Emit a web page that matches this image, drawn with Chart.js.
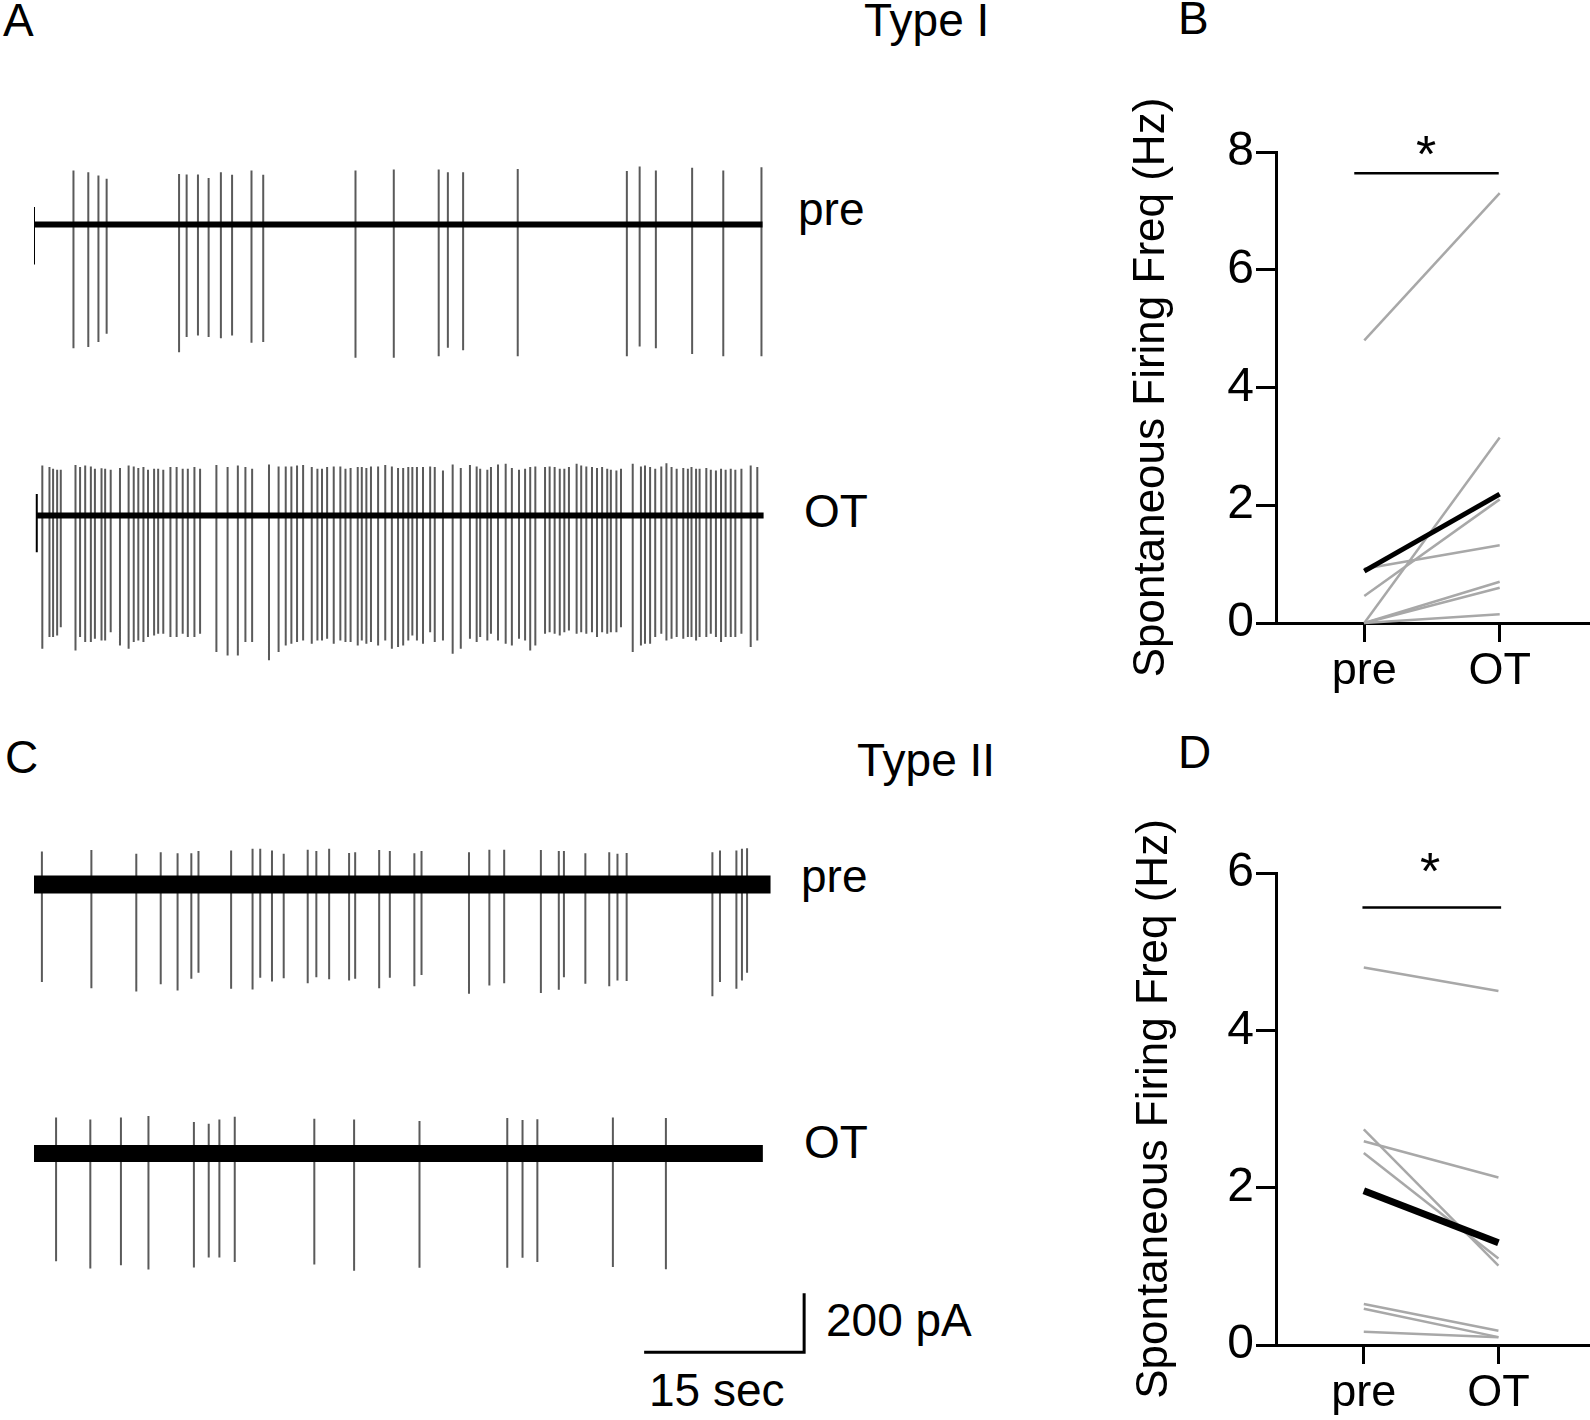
<!DOCTYPE html>
<html>
<head>
<meta charset="utf-8">
<script src="https://cdn.jsdelivr.net/npm/chart.js@4.4.1/dist/chart.umd.min.js"></script>
<style>
  body { margin: 0; background: #fff; width: 1590px; height: 1420px; position: relative; overflow: hidden;
         font-family: "Liberation Sans", Arial, sans-serif; }
  .lbl { position: absolute; font-size: 46px; line-height: 1; color: #000; white-space: nowrap; }
  .star { font-size: 52px; width: 60px; text-align: center; }
</style>
</head>
<body>
<div class="lbl" style="left:3px;top:-3px">A</div>
<div class="lbl" style="left:864px;top:-3px">Type I</div>
<div class="lbl" style="left:1178px;top:-5px">B</div>
<div class="lbl" style="left:5px;top:734px">C</div>
<div class="lbl" style="left:857px;top:737px">Type II</div>
<div class="lbl" style="left:1178px;top:729px">D</div>
<div class="lbl" style="left:798px;top:186px">pre</div>
<div class="lbl" style="left:804px;top:488px">OT</div>
<div class="lbl" style="left:801px;top:853px">pre</div>
<div class="lbl" style="left:804px;top:1119px">OT</div>
<div class="lbl" style="left:826px;top:1297px">200 pA</div>
<div class="lbl" style="left:649px;top:1367px">15 sec</div>
<div class="lbl star" style="left:1396px;top:128px">*</div>
<div class="lbl star" style="left:1400px;top:845px">*</div>

<script>
// ---- panel A: Type I, spike times (s), peak up / down (pA) ----
const preIStart = 0, preIEnd = 68.3;
const preIArtifact = [0.0, 59, -135];
const preITimes = [3.70, 5.09, 6.04, 6.81, 13.60, 14.31, 15.37, 16.37, 17.52, 18.57, 20.39, 21.49,
  30.14, 33.73, 37.94, 38.80, 40.23, 45.35, 55.58, 56.78, 58.30, 61.70, 64.62, 68.20];
const preIUp = [183, 177, 166, 155, 171, 169, 169, 157, 177, 168, 183, 168,
  183, 186, 186, 177, 177, 188, 181, 196, 183, 192, 183, 194];
const preIDown = [-419, -415, -398, -370, -432, -381, -376, -381, -385, -376, -400, -398,
  -451, -451, -446, -417, -426, -446, -446, -413, -419, -438, -446, -446];

const otIStart = 0.26, otIEnd = 68.4;
const otIArtifact = [0.26, 73, -124];
const otITimes = [0.78, 1.45, 1.79, 2.17, 2.51, 3.89, 4.32, 4.80, 5.33, 5.71, 6.33, 6.67, 7.19, 8.06,
  8.87, 9.35, 9.78, 10.26, 10.69, 11.26, 11.64, 12.12, 12.79, 13.37, 13.94, 14.42, 15.04, 15.57,
  17.10, 18.15, 19.11, 19.82, 20.45, 22.03, 22.93, 23.60, 24.13, 24.66, 25.23, 26.04, 26.57, 27.00,
  27.48, 28.10, 28.72, 29.20, 29.68, 30.35, 30.73, 31.16, 31.59, 32.26, 32.93, 33.55, 34.13, 34.61,
  35.09, 35.47, 35.90, 36.47, 37.14, 37.57, 38.34, 39.25, 40.01, 40.87, 41.50, 41.83, 42.50, 42.84,
  43.50, 44.22, 44.80, 45.47, 46.04, 46.52, 47.00, 47.91, 48.34, 48.81, 49.29, 49.72, 50.15, 50.87,
  51.30, 51.78, 52.31, 52.78, 53.26, 53.74, 54.08, 54.60, 55.03, 56.13, 56.90, 57.28, 57.76, 58.24,
  58.81, 59.29, 59.77, 60.25, 60.87, 61.30, 61.64, 62.07, 62.40, 63.03, 63.45, 63.93, 64.41, 64.84,
  65.32, 65.75, 66.32, 67.19, 67.81];
const otIUp = [169, 164, 158, 155, 155, 171, 164, 169, 166, 158, 160, 158, 155, 161,
  169, 166, 161, 164, 155, 158, 158, 155, 164, 164, 158, 158, 164, 158,
  171, 164, 169, 164, 158, 173, 166, 166, 166, 169, 171, 164, 158, 158,
  164, 166, 166, 158, 161, 164, 164, 161, 166, 166, 171, 166, 161, 161,
  164, 164, 164, 164, 166, 164, 152, 173, 161, 171, 166, 158, 155, 164,
  173, 175, 161, 155, 158, 164, 166, 164, 166, 164, 158, 158, 164, 175,
  169, 166, 164, 161, 164, 158, 155, 152, 158, 175, 166, 169, 164, 158,
  166, 177, 164, 158, 161, 158, 164, 158, 158, 161, 155, 152, 158, 155,
  158, 155, 158, 169, 164];
const otIDown = [-451, -411, -411, -406, -378, -457, -411, -428, -428, -417, -423, -423, -395, -440,
  -451, -428, -423, -428, -411, -406, -400, -400, -411, -411, -400, -411, -411, -400,
  -462, -474, -474, -428, -428, -490, -462, -440, -434, -428, -423, -434, -423, -423,
  -417, -434, -423, -428, -428, -440, -423, -434, -428, -440, -423, -451, -445, -440,
  -423, -406, -423, -434, -395, -428, -423, -468, -451, -417, -428, -411, -423, -400,
  -423, -434, -440, -417, -423, -457, -440, -400, -395, -400, -406, -395, -389, -400,
  -395, -400, -395, -411, -395, -400, -395, -395, -378, -462, -440, -434, -434, -411,
  -400, -423, -417, -411, -417, -411, -411, -423, -411, -411, -400, -411, -428, -411,
  -411, -411, -400, -445, -423];

// ---- panel C: Type II ----
const preIIStart = 0, preIIEnd = 69.05;
const preIITimes = [0.74, 5.38, 9.59, 11.88, 13.46, 14.75, 15.42, 18.48, 20.49, 21.21, 22.31, 23.41,
  25.66, 26.47, 27.67, 29.54, 30.11, 32.36, 33.36, 35.66, 36.33, 40.78, 42.69, 44.08,
  47.52, 49.20, 49.68, 51.69, 53.93, 54.70, 55.56, 63.60, 64.31, 65.85, 66.37, 66.85];
const preIIUp = [112, 117, 104, 109, 106, 106, 113, 115, 121, 121, 115, 104,
  118, 113, 121, 107, 109, 117, 113, 106, 113, 109, 118, 118,
  117, 113, 113, 106, 109, 104, 107, 109, 115, 115, 121, 123];
const preIIDown = [-330, -351, -362, -338, -359, -319, -299, -353, -355, -316, -328, -317,
  -334, -314, -321, -325, -319, -351, -316, -344, -306, -370, -342, -334,
  -367, -356, -314, -336, -344, -325, -327, -378, -330, -353, -325, -299];

const otIIStart = 0, otIIEnd = 68.33;
const otIITimes = [2.07, 5.28, 8.15, 10.73, 14.99, 16.38, 17.38, 18.82, 26.28, 30.01, 36.14, 44.37,
  45.80, 47.19, 54.27, 59.24];
const otIIUp = [122, 115, 122, 127, 107, 101, 115, 124, 118, 115, 110, 120, 113, 116, 122, 120];
const otIIDown = [-365, -389, -378, -393, -386, -352, -352, -367, -376, -397, -387, -387,
  -353, -367, -384, -392];

// scale bar: 15 s by 200 pA
const scaleBarT = [57.2, 72.2];
const scaleBarPA = 200;

// ---- panels B / D: firing frequency (Hz), pre vs OT ----
const groupLabels = ['pre', 'OT'];
const bPre = [4.8, 0.92, 0.46, 0, 0, 0, 0];
const bOT = [7.3, 1.32, 2.1, 3.15, 0.7, 0.6, 0.15];
const bMean = [0.88, 2.19];
const bSig = 7.64;
const dPre = [4.8, 2.74, 2.59, 2.44, 0.52, 0.46, 0.17];
const dOT = [4.5, 1.01, 2.13, 1.1, 0.18, 0.1, 0.1];
const dMean = [1.96, 1.3];
const dSig = 5.56;

Chart.defaults.font.family = '"Liberation Sans", Arial, sans-serif';
Chart.defaults.color = '#000';

function addCanvas(left, top, w, h) {
  const c = document.createElement('canvas');
  c.width = w; c.height = h;
  c.style.cssText = `position:absolute;left:${left}px;top:${top}px;width:${w}px;height:${h}px`;
  document.body.appendChild(c);
  return c;
}

const T_MAX = 75, Y_MIN = -550, Y_MAX = 330, TRACE_H = 260;
const baseOpts = {
  responsive: false, animation: false, events: [],
  plugins: { legend: { display: false }, tooltip: { enabled: false } },
  elements: { point: { radius: 0 }, line: { tension: 0, borderCapStyle: 'butt' } }
};

function spikePoints(times, ups, downs) {
  const pts = [];
  times.forEach((t, i) => {
    pts.push({ x: t, y: ups[i] }, { x: t, y: downs[i] }, { x: t, y: null });
  });
  return pts;
}

function drawTrace(baselineY, start, end, band, times, ups, downs, artifact) {
  const top = baselineY - Y_MAX * TRACE_H / (Y_MAX - Y_MIN);
  const datasets = [
    { data: [{ x: start, y: 0 }, { x: end, y: 0 }], borderColor: '#000', borderWidth: band },
    { data: spikePoints(times, ups, downs), borderColor: '#5a5a5a', borderWidth: 2, spanGaps: false }
  ];
  if (artifact) {
    datasets.push({ data: spikePoints([artifact[0]], [artifact[1]], [artifact[2]]), borderColor: '#000', borderWidth: 2 });
  }
  new Chart(addCanvas(34, top, 800, TRACE_H), {
    type: 'line',
    data: { datasets },
    options: {
      ...baseOpts,
      layout: { padding: 0 },
      scales: {
        x: { type: 'linear', min: 0, max: T_MAX, display: false },
        y: { min: Y_MIN, max: Y_MAX, display: false }
      }
    }
  });
}

drawTrace(224, preIStart, preIEnd, 6, preITimes, preIUp, preIDown, preIArtifact);
drawTrace(515, otIStart, otIEnd, 6, otITimes, otIUp, otIDown, otIArtifact);
drawTrace(884, preIIStart, preIIEnd, 18, preIITimes, preIIUp, preIIDown, null);
drawTrace(1153, otIIStart, otIIEnd, 17, otIITimes, otIIUp, otIIDown, null);

// scale bar
new Chart(addCanvas(34, 1270, 800, 100), {
  type: 'line',
  data: { datasets: [{
    data: [{ x: scaleBarT[0], y: 0 }, { x: scaleBarT[1], y: 0 }, { x: scaleBarT[1], y: scaleBarPA }],
    borderColor: '#000', borderWidth: 3, borderJoinStyle: 'miter'
  }] },
  options: {
    ...baseOpts,
    layout: { padding: 0 },
    scales: {
      x: { type: 'linear', min: 0, max: T_MAX, display: false },
      y: { min: -60, max: -60 + 100 * (Y_MAX - Y_MIN) / TRACE_H, display: false }
    }
  }
});

function drawStat(top, pre, ot, mean, meanW, sig, sigX, yMax, padTop, axisH, xMax, titlePad) {
  const datasets = [
    { data: [{ x: 1, y: mean[0] }, { x: 2, y: mean[1] }], borderColor: '#000', borderWidth: meanW, clip: false },
    { data: [{ x: sigX[0], y: sig }, { x: sigX[1], y: sig }], borderColor: '#000', borderWidth: 2.5, clip: false }
  ];
  pre.forEach((v, i) => {
    datasets.push({ data: [{ x: 1, y: v }, { x: 2, y: ot[i] }], borderColor: '#a8a8a8', borderWidth: 2.5, clip: false });
  });
  const axisLine = { display: true, color: '#000', width: 3 };
  new Chart(addCanvas(1100, top, 490, 620), {
    type: 'line',
    data: { datasets },
    options: {
      ...baseOpts,
      layout: { padding: { top: padTop, left: 0, right: 0, bottom: 0 } },
      scales: {
        x: {
          type: 'linear', min: 0.348, max: xMax,
          afterBuildTicks: s => { s.ticks = [{ value: 1 }, { value: 2 }]; },
          afterFit: s => { s.height = axisH; },
          ticks: { callback: v => groupLabels[v - 1] || '', font: { size: 45 }, color: '#000', padding: 3,
                   maxRotation: 0, autoSkip: false },
          grid: { drawOnChartArea: false, drawTicks: true, tickLength: 19, tickWidth: 3, tickColor: '#000' },
          border: axisLine
        },
        y: {
          min: 0, max: yMax,
          afterFit: s => { s.width = 176; },
          ticks: { stepSize: 2, font: { size: 48 }, color: '#000', padding: 2 },
          grid: { drawOnChartArea: false, drawTicks: true, tickLength: 20, tickWidth: 3, tickColor: '#000' },
          border: axisLine,
          title: { display: true, text: 'Spontaneous Firing Freq (Hz)', font: { size: 44 }, color: '#000',
                   padding: { top: titlePad, bottom: 0 } }
        }
      }
    }
  });
}

drawStat(90, bPre, bOT, bMean, 5, bSig, [0.926, 1.993], 8, 62, 87, 2.667, 25);
drawStat(800, dPre, dOT, dMean, 7, dSig, [0.99, 2.02], 6, 73, 75, 2.68, 28);
</script>
</body>
</html>
